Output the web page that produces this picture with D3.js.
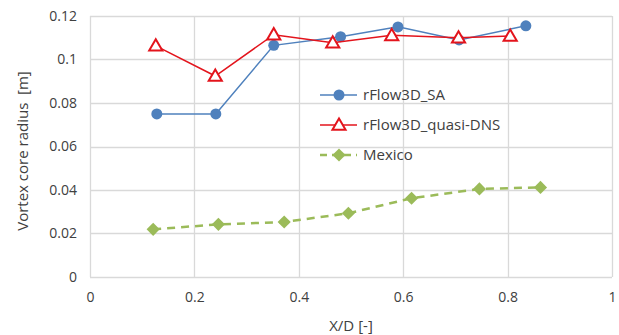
<!DOCTYPE html>
<html>
<head>
<meta charset="utf-8">
<script src="https://cdn.jsdelivr.net/npm/d3@7"></script>
<style>
  body { margin: 0; background: #fff; }
  text { font-family: "Open Sans", "Noto Sans", sans-serif; fill: #404040; }
</style>
</head>
<body>
<div id="chart"></div>
<script>
// values
const saX = [0.128, 0.241, 0.352, 0.48, 0.59, 0.707, 0.835];
const saY = [0.075, 0.075, 0.1065, 0.1105, 0.115, 0.109, 0.1155];
const dnsX = [0.126, 0.24, 0.352, 0.465, 0.578, 0.706, 0.805];
const dnsY = [0.1063, 0.0924, 0.1114, 0.1077, 0.1111, 0.110, 0.1108];
const mexX = [0.121, 0.246, 0.372, 0.495, 0.616, 0.746, 0.863];
const mexY = [0.0219, 0.0242, 0.0253, 0.0293, 0.0362, 0.0405, 0.0412];
const xTicks = [0, 0.2, 0.4, 0.6, 0.8, 1];
const yTicks = [0, 0.02, 0.04, 0.06, 0.08, 0.1, 0.12];
const seriesNames = ["rFlow3D_SA", "rFlow3D_quasi-DNS", "Mexico"];

const W = 619, H = 335;
const margin = {top: 16, right: 7, bottom: 58, left: 90};
const width = W - margin.left - margin.right,
      height = H - margin.top - margin.bottom;

const svg = d3.select("#chart").append("svg")
    .attr("width", W).attr("height", H);
const g = svg.append("g")
    .attr("transform", "translate(" + margin.left + "," + margin.top + ")");

const x = d3.scaleLinear().domain([0, 1]).range([0, width]);
const y = d3.scaleLinear().domain([0, 0.12]).range([height, 0]);

// grid
g.append("g").selectAll("line").data(yTicks).join("line")
    .attr("x1", 0).attr("x2", width)
    .attr("y1", d => Math.round(y(d)) + 0.5).attr("y2", d => Math.round(y(d)) + 0.5)
    .attr("stroke", "#d9d9d9").attr("stroke-width", 1.3);
g.append("g").selectAll("line").data(xTicks).join("line")
    .attr("y1", 0).attr("y2", height)
    .attr("x1", d => Math.round(x(d)) + 0.5).attr("x2", d => Math.round(x(d)) + 0.5)
    .attr("stroke", "#d9d9d9").attr("stroke-width", 1.3);

// axis labels
const xAxis = g.append("g").attr("transform", "translate(0," + height + ")")
    .call(d3.axisBottom(x).tickValues(xTicks).tickSize(0).tickPadding(15).tickFormat(d3.format("")));
const yAxis = g.append("g")
    .call(d3.axisLeft(y).tickValues(yTicks).tickSize(0).tickPadding(13).tickFormat(d => d === 0 ? "0" : String(+d.toFixed(2))));
[xAxis, yAxis].forEach(a => {
  a.select(".domain").remove();
  a.selectAll("text").attr("font-size", 14).attr("fill", "#404040")
    .style("font-family", '"Open Sans", "Noto Sans", sans-serif');
});

svg.append("text")
    .attr("x", margin.left + width / 2).attr("y", 331)
    .attr("text-anchor", "middle").attr("font-size", 15)
    .text("X/D [-]");
svg.append("text")
    .attr("transform", "translate(28,151) rotate(-90)")
    .attr("text-anchor", "middle").attr("font-size", 15)
    .style("white-space", "pre")
    .text("Vortex core radius  [m]");

const line = d3.line().x(d => x(d[0])).y(d => y(d[1]));
const zip = (a, b) => a.map((v, i) => [v, b[i]]);

const blue = "#4f81bd", red = "#e3141c", green = "#9bbb59";

// Mexico
g.append("path").datum(zip(mexX, mexY)).attr("d", line)
    .attr("fill", "none").attr("stroke", green).attr("stroke-width", 2.5)
    .attr("stroke-dasharray", "8,6");
const diamond = d3.symbol().type(d3.symbolDiamond2).size(110);
g.selectAll(".mex").data(zip(mexX, mexY)).join("path")
    .attr("transform", d => "translate(" + x(d[0]) + "," + y(d[1]) + ")")
    .attr("d", diamond).attr("fill", green);

// SA
g.append("path").datum(zip(saX, saY)).attr("d", line)
    .attr("fill", "none").attr("stroke", blue).attr("stroke-width", 1.5);
g.selectAll(".sa").data(zip(saX, saY)).join("circle")
    .attr("cx", d => x(d[0])).attr("cy", d => y(d[1])).attr("r", 5.5)
    .attr("fill", blue);

// quasi-DNS
const tri = d3.symbol().type(d3.symbolTriangle).size(75);
g.append("path").datum(zip(dnsX, dnsY)).attr("d", line)
    .attr("fill", "none").attr("stroke", red).attr("stroke-width", 1.5);
g.selectAll(".dns").data(zip(dnsX, dnsY)).join("path")
    .attr("transform", d => "translate(" + x(d[0]) + "," + (y(d[1]) + 1) + ")")
    .attr("d", tri).attr("fill", "#fff").attr("stroke", red).attr("stroke-width", 2);

// legend
const leg = svg.append("g").attr("transform", "translate(320,95)");
const rowH = 30;
leg.append("line").attr("x1", 0).attr("x2", 37).attr("y1", 0).attr("y2", 0)
    .attr("stroke", blue).attr("stroke-width", 1.5);
leg.append("circle").attr("cx", 19).attr("cy", 0).attr("r", 5.5).attr("fill", blue);
leg.append("line").attr("x1", 0).attr("x2", 37).attr("y1", rowH).attr("y2", rowH)
    .attr("stroke", red).attr("stroke-width", 1.5);
leg.append("path").attr("transform", "translate(19," + (rowH + 1) + ")").attr("d", tri)
    .attr("fill", "#fff").attr("stroke", red).attr("stroke-width", 2);
leg.append("line").attr("x1", 0).attr("x2", 37).attr("y1", rowH * 2).attr("y2", rowH * 2)
    .attr("stroke", green).attr("stroke-width", 2.5).attr("stroke-dasharray", "7,5");
leg.append("path").attr("transform", "translate(19," + rowH * 2 + ")").attr("d", diamond)
    .attr("fill", green);
leg.selectAll(".lt").data(seriesNames).join("text")
    .attr("x", 43).attr("y", (d, i) => i * rowH).attr("dy", "0.35em")
    .attr("font-size", 15).text(d => d);
</script>
</body>
</html>
